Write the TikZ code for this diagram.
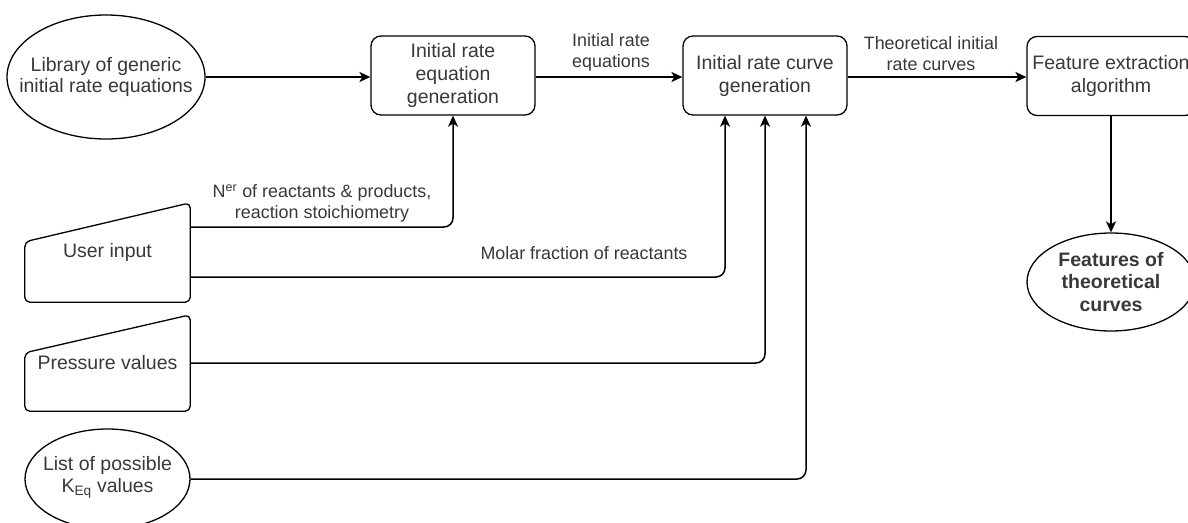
\documentclass[tikz,border=0pt]{standalone}
\usepackage{fontspec}
\setmainfont{Liberation Sans}
\usetikzlibrary{shapes.geometric,arrows.meta,calc}

\tikzset{
  base/.style={text=black!78, align=center, inner sep=0pt,
    font=\fontsize{19.5}{23}\selectfont},
  procbox/.style={base, draw, line width=1.3pt, rounded corners=10pt,
    minimum width=164pt, minimum height=79pt},
  oval/.style={draw, ellipse, line width=1.3pt, inner sep=0pt},
  inbox/.style={base, minimum width=165pt, minimum height=98pt},
  manual/.style={line width=1.3pt, rounded corners=5pt},
  flow/.style={line width=1.5pt, rounded corners=9pt,
    -{Stealth[length=11pt,width=10pt,inset=3pt]}},
  lbl/.style={text=black!78, align=center, inner sep=0pt,
    font=\fontsize{17.9}{21}\selectfont}
}

\begin{document}
\begin{tikzpicture}[x=1pt, y=-1pt]
  \useasboundingbox (0,0) rectangle (1188,522);

  % sources
  \node[oval, minimum width=198pt, minimum height=124pt] (lib) at (106,77) {};
  \node[base, font=\fontsize{19.5}{21}\selectfont] (libtext) at (lib.center)
    {Library of generic\\initial rate equations};
  \node[inbox, minimum height=99pt] (user) at (107.5,252.5) {User input};
  \draw[manual] (user.south west) -- ([yshift=-39pt]user.north west)
    -- (user.north east) -- (user.south east) -- cycle;
  \node[inbox, minimum height=96pt] (press) at (107.5,363) {Pressure values};
  \draw[manual] (press.south west) -- ([yshift=-38pt]press.north west)
    -- (press.north east) -- (press.south east) -- cycle;
  \node[oval, minimum width=165pt, minimum height=100pt] (keq) at (107.5,479) {};
  \node[base, font=\fontsize{19.5}{22}\selectfont] (keqtext) at ([yshift=2pt]keq.center)
    {List of possible\\K\textsubscript{Eq} values};

  % processing steps
  \node[procbox] (eqgen) at (453,75.5) {Initial rate\\equation\\generation};
  \node[procbox] (curvegen) at (765,75.5) {Initial rate curve\\generation};
  \node[procbox, minimum width=168pt] (featx) at (1111,76)
    {Feature extraction\\algorithm};
  \node[oval, minimum width=168pt, minimum height=98pt] (feats) at (1111,282) {};
  \node[base, font=\fontsize{19.5}{22.5}\selectfont\bfseries] (featstext)
    at (feats.center) {Features of\\theoretical\\curves};

  % main chain
  \draw[flow] (lib.east) -- (lib.east -| eqgen.west);
  \draw[flow] (eqgen.east |- 0,77) -- (curvegen.west |- 0,77);
  \draw[flow] (curvegen.east |- 0,77) -- (featx.west |- 0,77);
  \draw[flow] (featx.south) -- (feats.north);

  % inputs into the generation steps
  \draw[flow] ([yshift=25.5pt]user.east) -| (eqgen.south);
  \draw[flow] ([yshift=-24.5pt]user.east) -| ([xshift=-40pt]curvegen.south);
  \draw[flow] (press.east) -| (curvegen.south);
  \draw[flow] (keq.east) -| ([xshift=41pt]curvegen.south);

  % connector labels
  \node[lbl] (l1) at (611,52) {Initial rate\\equations};
  \node[lbl] (l2) at (931,54) {Theoretical initial\\rate curves};
  \node[lbl] (l3) at (322,203.5)
    {N\textsuperscript{er} of reactants \& products,\\reaction stoichiometry};
  \node[lbl] (l4) at (584,253) {Molar fraction of reactants};
\end{tikzpicture}
\end{document}
